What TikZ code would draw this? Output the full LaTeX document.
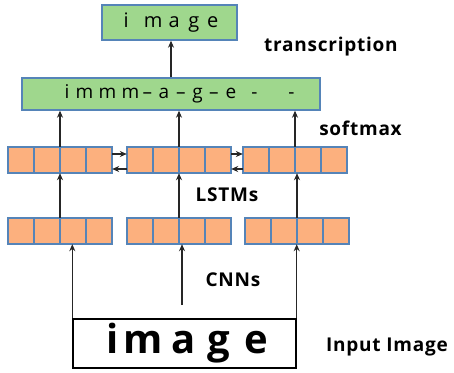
\documentclass[tikz,border=0pt]{standalone}
\usepackage{fontspec}
\setmainfont{Open Sans}
\usetikzlibrary{arrows.meta}
\definecolor{gfill}{HTML}{9FD78D}
\definecolor{ofill}{HTML}{FCB07E}
\definecolor{bord}{HTML}{5584B8}
\newcommand{\gl}[2]{\makebox[0pt]{#1}\hspace{#2pt}}
\tikzset{
  greenbox/.style={draw=bord, fill=gfill, line width=1.4pt, inner sep=0pt},
  cell/.style={draw=bord, fill=ofill, line width=1.2pt, minimum width=26pt, minimum height=26pt, inner sep=0pt},
  block/.style={minimum width=104pt, minimum height=26pt, inner sep=0pt},
  lbl/.style={font=\fontsize{19}{19}\selectfont\bfseries\addfontfeature{LetterSpace=4}, inner sep=0pt},
  arr/.style={-{Stealth[length=7pt,width=6pt]}, line width=1.1pt, black!85},
}
\newcommand{\cellrow}[3]{%
  \foreach \i in {0,1,2,3} {\node[cell] (#1c\i) at ({#2+13+26*\i},#3) {};}
  \node[block] (#1) at ({#2+52},#3) {};
}
\begin{document}
\begin{tikzpicture}[x=1pt,y=-1pt]
\useasboundingbox (0,0) rectangle (454,372);
% top transcription box
\node[greenbox, minimum width=135pt, minimum height=35pt, font=\fontsize{20}{20}\selectfont] (top) at (169.5,22.5)
  {\gl{i}{27}\gl{m}{21}\gl{a}{19.5}\gl{g}{19}\gl{e}{0}};
% softmax box
\node[greenbox, minimum width=298pt, minimum height=32pt, font=\fontsize{19}{19}\selectfont] (soft) at (171,94)
  {\hspace{16.5pt}\gl{i}{17.5}\gl{m}{23}\gl{m}{23}\gl{m}{17}\gl{--}{16.5}\gl{a}{17}\gl{--}{16.5}\gl{g}{16.5}\gl{--}{17}\gl{e}{23.5}\gl{-}{37}\gl{-}{0}};
% LSTM row
\cellrow{la}{8}{160}
\cellrow{lb}{127}{160}
\cellrow{lc}{243}{160}
% CNN row
\cellrow{ca}{8}{231}
\cellrow{cb}{127}{231}
\cellrow{cc}{245}{231}
% input image
\node[draw=black, line width=1.4pt, minimum width=223pt, minimum height=49pt, inner sep=0pt,
      font=\fontsize{40}{40}\selectfont\bfseries] (inp) at (184.5,343.5)
  {\gl{i}{30.5}\gl{m}{40.5}\gl{a}{35.5}\gl{g}{38}\gl{e}{21.5}};
\coordinate (cnnstart) at (182,305);
% labels
\node[lbl] (ltrans) at (331,47) {transcription};
\node[lbl] (lsoft) at (360.5,128) {softmax};
\node[lbl] (llstm) at (227,195) {LSTMs};
\node[lbl] (lcnn) at (233,280) {CNNs};
\node[lbl] (linp) at (387,347) {Input Image};
% arrows
\draw[arr] (soft.north) -- (soft.north |- top.south);
\foreach \b in {la,lb,lc} {\draw[arr] (\b.north) -- (\b.north |- soft.south);}
\draw[arr] (ca.north) -- (la.south);
\draw[arr] (cb.north) -- (lb.south);
\draw[arr] (cc.north) -- (cc.north |- lc.south);
\draw[arr] ([yshift=6pt]la.east) -- ([yshift=6pt]lb.west);
\draw[arr] ([yshift=-9pt]lb.west) -- ([yshift=-9pt]la.east);
\draw[arr] ([yshift=6pt]lb.east) -- ([yshift=6pt]lc.west);
\draw[arr] ([yshift=-9pt]lc.west) -- ([yshift=-9pt]lb.east);
\draw[arr] (inp.north west) -- (inp.north west |- ca.south);
\draw[arr] (cnnstart) -- (cnnstart |- cb.south);
\draw[arr] (inp.north east) -- (inp.north east |- cc.south);
\end{tikzpicture}
\end{document}
